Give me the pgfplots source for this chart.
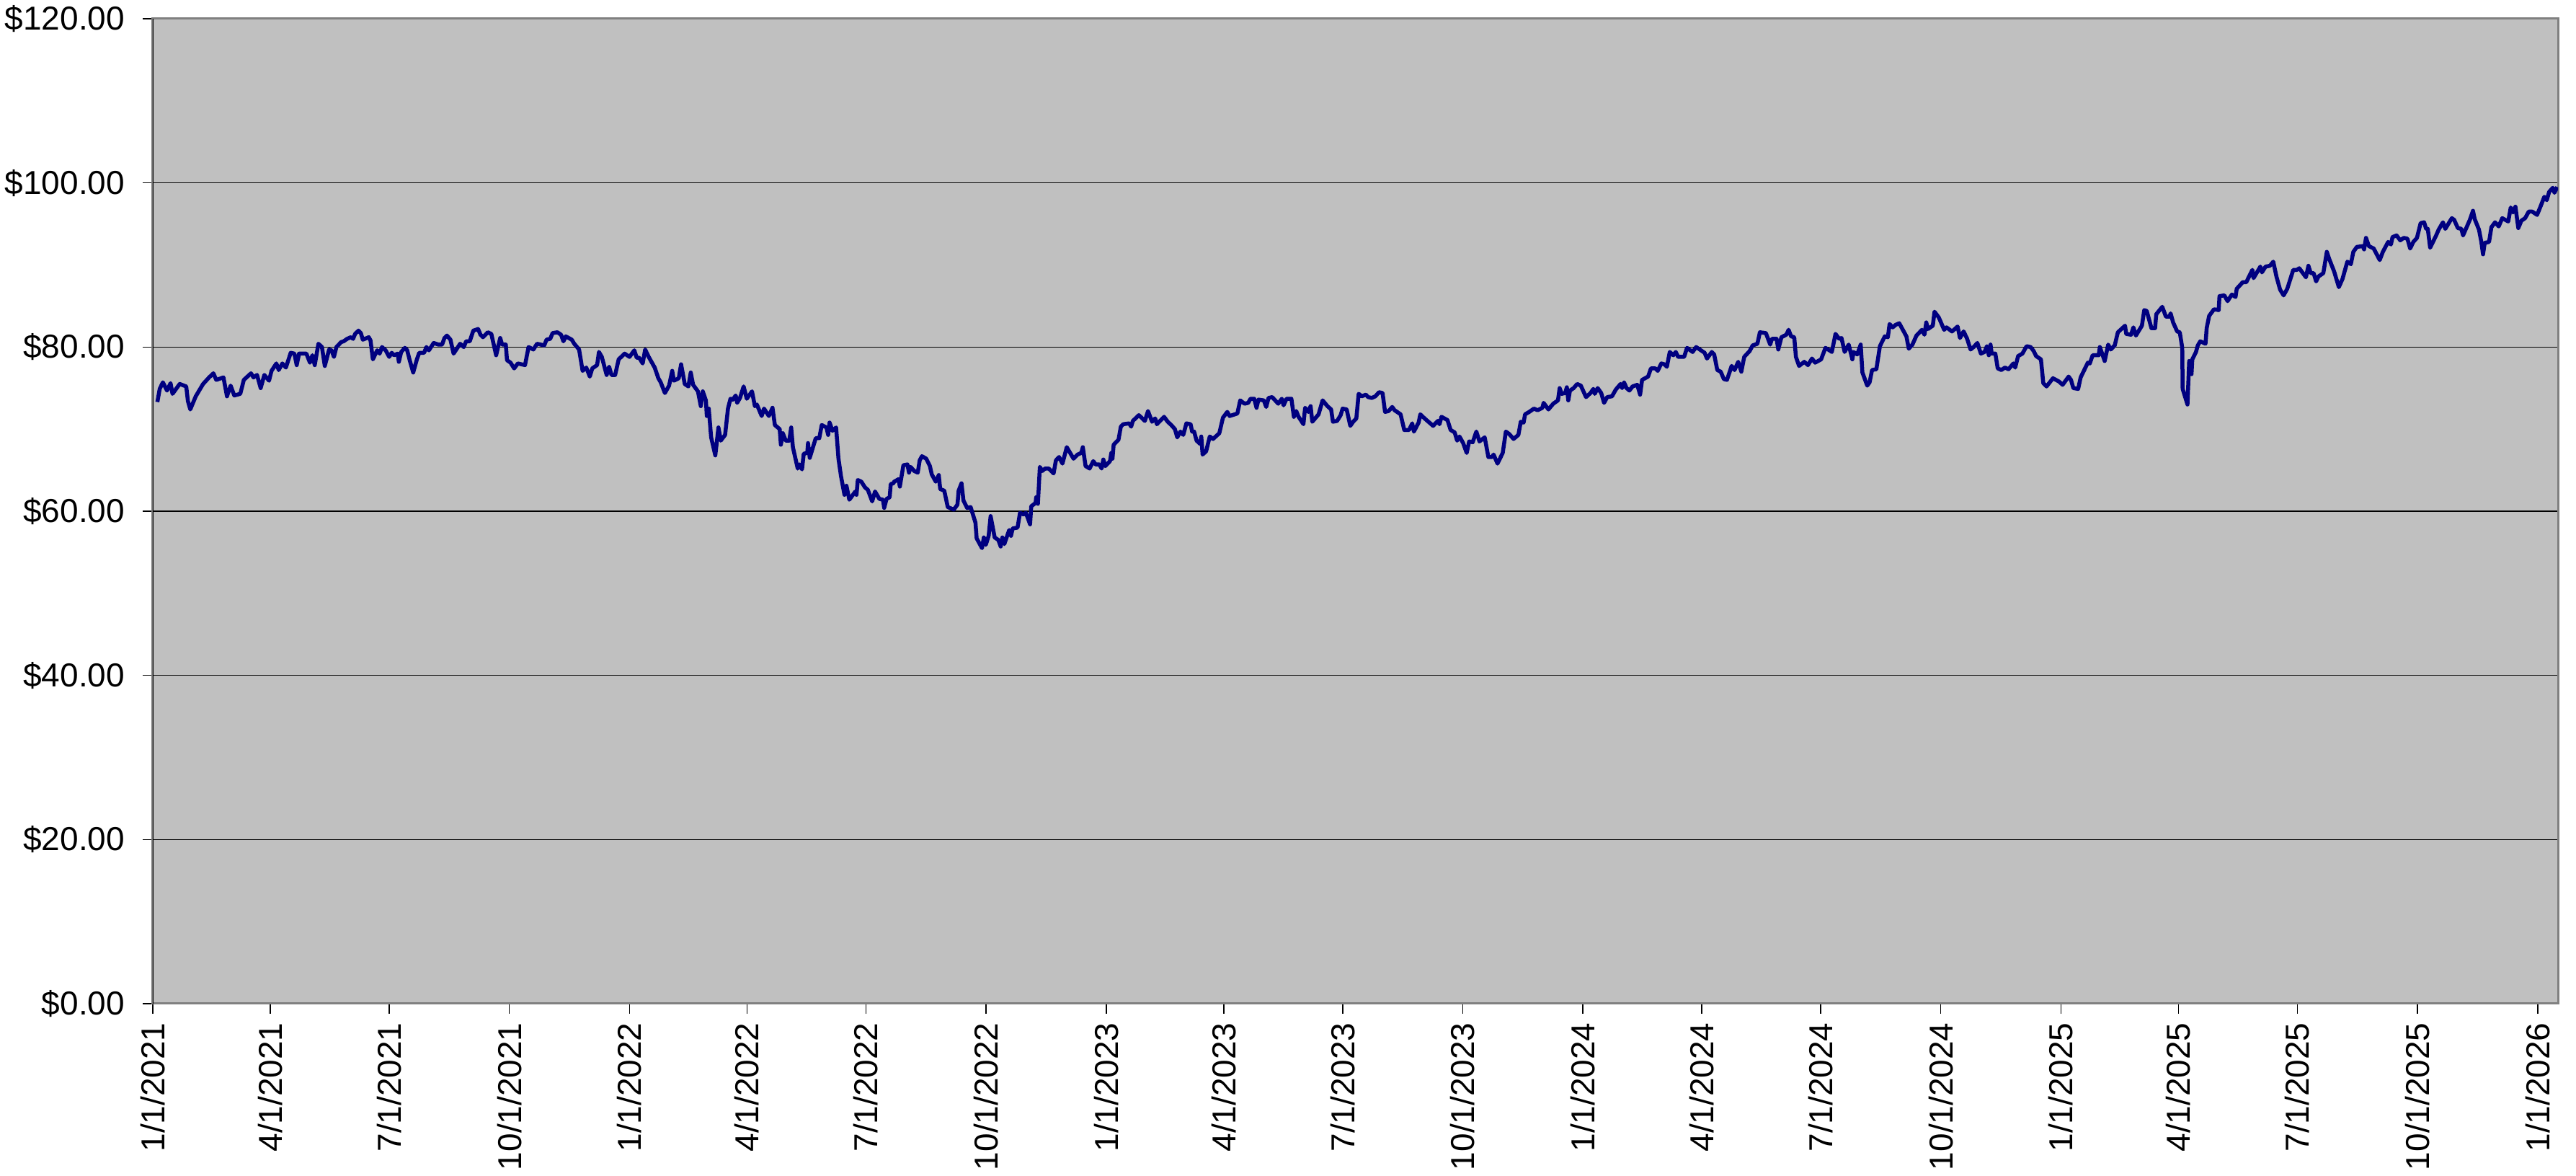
\documentclass[border=0pt]{standalone}
\usepackage{pgfplots}
\pgfplotsset{compat=1.18}
\usepackage{fontspec}
\setmainfont{Liberation Sans}
\definecolor{bggray}{RGB}{192,192,192}
\definecolor{bordergray}{RGB}{128,128,128}
\definecolor{navyline}{RGB}{0,0,128}
\begin{document}
\begin{tikzpicture}
\begin{axis}[
  scale only axis,
  width=667.4pt, height=273.2pt,
  xmin=0, xmax=1841.6,
  ymin=0, ymax=120,
  axis background/.style={fill=bggray},
  axis line style={draw=bordergray, line width=0.6pt},
  ymajorgrids,
  major grid style={black, line width=0.3pt},
  tick align=outside,
  major tick length=2.8pt,
  xtick pos=bottom, ytick pos=left,
  every tick/.style={black, line width=0.3pt},
  xtick={0,90,181,273,365,455,546,638,730,820,911,1003,1095,1186,1277,1369,1461,1551,1642,1734,1826},
  xticklabels={1/1/2021,4/1/2021,7/1/2021,10/1/2021,1/1/2022,4/1/2022,7/1/2022,10/1/2022,1/1/2023,4/1/2023,7/1/2023,10/1/2023,1/1/2024,4/1/2024,7/1/2024,10/1/2024,1/1/2025,4/1/2025,7/1/2025,10/1/2025,1/1/2026},
  ytick={0,20,40,60,80,100,120},
  yticklabels={\$0.00,\$20.00,\$40.00,\$60.00,\$80.00,\$100.00,\$120.00},
  tick label style={font=\fontsize{9.2}{10}\selectfont, inner sep=0pt},
  xticklabel style={rotate=90, anchor=east},
  xticklabel shift=2.3pt,
  yticklabel shift=4.8pt,
]
\coordinate (SW) at (rel axis cs:0,0);
\coordinate (NE) at (rel axis cs:1,1);
\draw[black, line width=0.3pt] (rel axis cs:0,0) -- (rel axis cs:0,1);
\addplot[navyline, line width=1.1pt, line join=round] table {
x y
3.5 73.3
5.3 74.9
7.7 75.7
10.9 74.7
13.6 75.6
15.1 74.3
20.6 75.5
25.6 75.2
26.9 73.4
28.7 72.4
32.9 74.0
38.5 75.5
43.1 76.3
46.4 76.8
48.6 76.0
54.1 76.3
56.8 74.0
59.6 75.3
62.4 74.1
67.0 74.3
69.7 76.0
75.2 76.8
77.1 76.3
79.8 76.6
82.6 75.0
85.4 76.6
89.0 75.9
90.9 77.1
94.6 78.0
96.4 77.2
99.2 78.0
101.9 77.5
105.6 79.3
108.4 79.2
110.2 77.8
112.0 79.2
117.6 79.2
120.3 78.1
122.2 79.0
124.0 77.8
126.8 80.4
129.5 80.0
131.7 77.7
135.0 79.7
136.9 79.6
138.7 78.8
140.6 80.0
144.2 80.6
146.1 80.7
148.8 81.0
151.6 81.2
153.4 81.0
154.9 81.6
157.5 82.0
159.3 81.7
160.8 80.9
165.4 81.2
166.7 80.8
168.5 78.5
171.8 79.6
173.7 79.2
175.5 80.0
178.3 79.6
181.0 78.8
182.9 79.3
184.7 79.0
187.5 79.2
188.4 78.2
190.2 79.4
193.0 79.9
194.8 79.6
196.7 78.4
199.4 76.9
202.2 78.5
204.0 79.3
207.7 79.3
209.5 80.0
211.4 79.6
215.1 80.5
218.7 80.3
221.5 80.3
223.3 81.1
225.2 81.4
227.9 80.9
230.3 79.2
235.3 80.4
238.1 80.0
239.9 80.7
242.7 80.7
245.4 82.0
249.1 82.2
250.9 81.5
252.8 81.2
256.5 81.8
259.2 81.6
262.9 79.0
266.0 81.1
267.5 80.3
270.3 80.3
271.2 78.4
273.9 78.1
276.7 77.4
279.5 78.0
285.0 77.8
287.7 80.0
291.4 79.7
294.2 80.4
299.7 80.2
301.5 80.9
304.3 81.0
306.1 81.7
309.8 81.8
312.6 81.5
314.4 80.7
316.2 81.3
320.8 80.9
322.7 80.4
326.4 79.7
329.1 77.1
331.9 77.5
334.6 76.4
336.5 77.4
340.2 77.8
341.6 79.4
343.8 78.8
347.5 76.6
349.4 77.6
351.2 76.6
354.0 76.6
356.7 78.5
361.3 79.2
365.0 78.8
368.7 79.6
370.5 78.7
372.4 78.7
375.1 78.0
377.0 79.7
379.7 78.8
384.3 77.5
387.1 76.2
388.9 75.7
392.1 74.4
395.3 75.3
397.7 77.1
399.0 75.9
402.7 76.2
404.5 77.9
407.3 75.5
410.1 75.2
411.9 76.9
413.7 75.4
417.4 74.6
419.6 72.8
421.1 74.6
423.5 73.5
424.2 71.6
425.7 72.5
427.5 69.0
430.7 66.8
433.1 70.2
434.9 68.6
438.2 69.3
440.4 72.5
442.3 73.7
444.1 73.6
446.3 74.1
447.4 73.2
449.6 73.8
452.4 75.2
454.8 73.7
458.8 74.6
461.0 72.8
462.5 73.0
466.2 71.6
468.0 72.5
471.7 71.6
474.5 72.6
476.3 70.5
480.0 70.0
480.9 68.1
482.4 69.5
484.6 68.6
487.3 68.6
488.8 70.2
490.1 67.8
493.8 65.2
495.2 65.7
497.1 65.1
498.4 67.0
501.1 67.1
501.7 68.3
503.0 66.5
507.6 68.9
510.3 68.9
512.2 70.5
515.8 70.2
517.1 69.3
518.2 70.8
520.4 69.8
523.2 70.2
525.0 66.4
526.9 64.3
529.6 62.0
531.1 63.1
533.3 61.4
536.1 62.0
537.9 62.4
538.8 62.0
539.8 63.8
542.5 63.6
545.3 62.9
547.5 62.6
550.8 61.2
553.0 62.4
556.3 61.5
559.1 61.4
560.0 60.4
561.8 61.5
564.2 61.7
565.0 63.3
567.0 63.4
567.7 63.6
571.0 63.9
572.0 63.0
574.7 65.6
577.8 65.7
579.0 64.7
580.2 65.4
583.0 64.9
585.7 64.7
587.2 66.2
588.9 66.7
592.2 66.4
595.0 65.5
596.4 64.5
599.5 63.6
601.8 64.4
602.9 62.7
606.0 62.5
608.7 60.5
613.3 60.2
616.1 60.8
617.0 62.5
619.2 63.4
620.7 61.3
623.5 60.4
626.2 60.5
629.9 58.6
630.8 56.7
634.9 55.5
636.3 56.8
637.8 55.9
640.0 57.0
641.5 59.4
644.6 56.8
647.4 56.5
649.2 55.7
650.5 56.8
652.0 56.0
655.7 57.7
657.1 57.0
658.4 57.9
662.1 58.0
664.0 59.8
666.7 59.6
668.5 59.8
671.7 58.4
672.6 60.6
675.9 61.0
676.4 61.7
677.7 60.9
679.2 65.4
681.0 64.9
683.2 65.2
686.0 65.2
689.7 64.6
691.5 66.2
693.9 66.6
696.5 65.8
699.8 67.8
705.0 66.4
708.1 66.9
710.9 67.1
712.1 67.8
714.2 65.5
717.3 65.2
720.1 66.1
721.9 65.7
724.7 65.7
726.5 65.2
727.8 66.3
729.3 65.5
732.9 66.1
733.9 67.1
734.8 66.4
735.7 68.1
739.4 68.7
741.2 70.3
743.1 70.6
747.6 70.7
749.1 70.3
750.4 71.0
755.0 71.7
759.6 71.0
762.0 72.2
765.1 70.9
767.5 71.3
768.8 70.6
770.6 70.9
774.3 71.5
777.1 70.9
779.8 70.5
782.6 70.0
784.4 69.0
786.8 69.7
789.0 69.3
791.4 70.7
794.6 70.6
795.8 69.7
797.3 69.7
799.2 68.6
801.9 68.2
802.8 69.1
803.8 66.9
806.5 67.3
809.3 69.1
811.8 68.8
816.6 69.5
819.4 71.4
822.7 72.1
824.5 71.6
830.4 71.9
832.6 73.5
835.9 73.1
838.7 73.2
840.5 73.7
843.3 73.7
845.1 72.6
846.6 73.6
850.7 73.5
852.5 72.7
854.3 73.8
857.1 73.9
861.7 73.1
864.5 73.7
865.8 72.9
868.1 73.7
871.8 73.7
873.7 71.5
875.5 72.2
877.3 71.5
881.0 70.6
882.3 72.6
884.7 72.1
886.5 72.8
887.8 70.9
892.6 71.8
895.7 73.5
899.4 72.8
902.2 72.4
903.6 70.9
906.8 71.0
909.5 71.7
911.0 72.5
914.1 72.4
916.9 70.4
919.1 70.9
921.5 71.3
923.3 74.3
925.7 74.0
928.8 74.2
930.6 73.9
933.4 73.8
936.1 74.0
938.9 74.5
941.6 74.4
943.5 72.1
946.2 72.2
949.0 72.7
950.8 72.3
952.7 72.1
955.4 71.8
958.2 69.9
961.9 69.9
964.3 70.7
965.6 69.7
969.2 70.8
970.5 71.8
973.8 71.3
980.3 70.4
983.9 71.0
985.2 70.6
986.7 71.5
991.3 71.1
993.7 69.9
996.8 69.6
998.7 68.6
1000.5 69.1
1003.3 68.3
1006.0 67.1
1007.9 68.5
1010.6 68.4
1013.4 69.7
1015.8 68.5
1019.8 69.0
1022.6 66.6
1025.3 66.6
1026.6 66.9
1029.6 65.8
1033.6 67.1
1036.0 69.7
1038.6 69.4
1041.9 68.8
1045.6 69.3
1047.4 70.9
1049.6 70.8
1050.7 71.8
1053.9 72.1
1057.5 72.5
1060.3 72.3
1064.0 72.6
1064.9 73.2
1068.6 72.4
1072.3 73.1
1075.9 73.5
1077.2 75.0
1078.7 74.3
1081.4 74.4
1082.7 75.1
1083.8 73.5
1085.1 74.7
1087.9 75.0
1090.6 75.5
1093.4 75.3
1097.4 73.9
1100.8 74.4
1103.0 74.9
1104.1 74.3
1106.3 75.0
1109.0 74.4
1111.2 73.2
1113.6 73.9
1117.3 74.0
1120.1 74.8
1123.8 75.5
1125.0 75.0
1126.5 75.7
1128.4 75.0
1130.6 74.7
1133.0 75.2
1136.6 75.4
1138.8 74.2
1140.3 76.0
1144.9 76.4
1147.1 77.4
1150.4 77.4
1152.3 77.1
1155.0 78.0
1157.4 77.9
1159.3 77.6
1161.5 79.4
1164.2 79.0
1166.1 79.4
1167.9 78.8
1172.5 78.8
1174.7 79.9
1179.0 79.4
1181.7 80.0
1185.4 79.6
1188.2 79.3
1190.0 78.6
1193.7 79.4
1195.5 79.1
1197.9 77.2
1200.5 77.0
1202.9 76.1
1205.3 76.0
1208.9 77.7
1211.1 77.2
1213.9 78.2
1216.3 77.0
1218.5 78.8
1222.6 79.5
1225.0 80.2
1228.6 80.4
1230.5 81.8
1235.1 81.7
1238.4 80.3
1239.7 81.0
1243.3 81.0
1244.6 79.7
1247.0 81.2
1250.7 81.5
1252.5 82.1
1254.4 81.3
1256.8 81.2
1258.1 78.8
1260.5 77.7
1264.5 78.2
1267.3 77.8
1270.4 78.6
1272.8 78.1
1277.4 78.5
1280.7 79.9
1283.8 79.6
1285.6 79.4
1288.4 81.6
1291.2 81.0
1293.0 81.1
1295.4 79.4
1298.5 80.3
1301.3 78.5
1302.2 79.4
1305.0 79.1
1307.7 80.3
1309.0 76.9
1312.7 75.3
1314.5 75.7
1316.4 77.2
1319.7 77.3
1322.4 80.1
1326.1 81.3
1328.5 81.2
1329.8 82.8
1332.2 82.4
1334.4 82.7
1337.2 82.9
1342.7 81.3
1344.5 79.8
1347.3 80.3
1350.4 81.4
1354.6 82.1
1356.5 81.5
1357.9 83.0
1359.2 82.2
1362.9 82.6
1364.2 84.3
1367.5 83.6
1371.6 82.1
1373.4 82.4
1377.6 81.9
1381.9 82.5
1383.7 81.1
1386.5 81.9
1389.2 81.0
1391.8 79.7
1394.2 80.0
1397.0 80.5
1399.7 79.2
1402.5 79.4
1404.3 80.1
1405.8 79.0
1407.1 80.3
1408.0 79.2
1410.8 79.2
1412.6 77.4
1415.4 77.2
1418.1 77.5
1420.9 77.3
1424.6 78.0
1426.0 77.5
1428.2 78.9
1431.5 79.2
1434.7 80.1
1437.8 80.0
1440.2 79.5
1442.0 78.9
1445.7 78.5
1447.5 75.6
1450.0 75.2
1454.9 76.2
1459.5 75.8
1462.3 75.4
1466.9 76.4
1468.7 76.0
1470.5 75.0
1474.2 74.9
1476.1 76.3
1481.6 78.1
1483.1 78.0
1485.3 79.0
1489.9 79.0
1490.8 80.0
1494.5 78.3
1497.2 80.3
1499.1 79.7
1502.2 80.2
1504.6 81.8
1510.1 82.6
1511.0 81.6
1514.7 81.5
1516.5 82.4
1518.4 81.4
1523.0 82.6
1524.8 84.5
1526.7 84.4
1530.3 82.3
1533.1 82.3
1534.0 84.0
1538.6 84.9
1541.4 83.7
1544.1 83.7
1545.0 84.1
1546.9 83.0
1550.0 81.9
1552.0 81.8
1553.9 79.9
1554.2 74.9
1557.9 73.0
1559.2 78.3
1561.0 76.7
1561.6 78.5
1564.4 79.4
1565.8 80.2
1567.7 80.7
1571.7 80.4
1572.6 82.3
1574.5 83.8
1578.2 84.6
1581.8 84.5
1582.4 86.2
1586.1 86.3
1588.6 85.6
1591.9 86.4
1594.7 86.1
1595.6 87.1
1600.2 87.9
1602.9 87.9
1607.6 89.4
1608.5 88.4
1613.7 89.8
1614.9 89.1
1617.7 89.8
1621.0 89.9
1623.6 90.4
1626.0 88.6
1628.8 87.0
1631.5 86.3
1634.3 87.1
1636.1 88.0
1638.9 89.4
1641.6 89.4
1643.5 89.6
1648.6 88.5
1650.5 89.9
1652.3 89.0
1654.5 89.0
1656.4 88.0
1658.2 88.6
1661.9 89.0
1664.6 91.6
1666.5 90.7
1670.2 89.2
1673.8 87.3
1676.6 88.3
1680.3 90.4
1683.0 90.1
1684.9 91.6
1687.6 92.2
1692.2 92.3
1693.1 91.9
1694.6 93.3
1696.8 92.3
1700.5 92.0
1705.1 90.6
1707.5 91.6
1711.5 92.8
1713.7 92.5
1714.9 93.4
1718.0 93.6
1720.8 93.0
1723.5 93.3
1726.3 93.2
1728.4 92.0
1730.8 92.8
1733.6 93.3
1736.4 95.1
1739.1 95.2
1740.6 94.4
1741.9 94.4
1743.7 92.1
1748.3 93.6
1750.2 94.3
1753.5 95.2
1755.3 94.4
1760.3 95.7
1762.1 95.5
1764.9 94.5
1767.6 94.4
1768.9 93.6
1774.1 95.5
1776.5 96.6
1777.8 95.6
1781.1 94.3
1782.9 92.8
1784.2 91.3
1785.5 92.7
1788.8 92.8
1790.6 94.6
1793.4 95.2
1796.2 94.7
1798.9 95.7
1803.5 95.3
1805.4 97.0
1807.2 96.4
1809.0 97.1
1811.2 94.5
1813.6 95.4
1816.4 95.7
1819.2 96.5
1821.9 96.5
1825.6 96.1
1828.4 97.2
1831.1 98.3
1833.0 97.9
1834.8 98.9
1837.6 99.4
1838.9 98.8
1841.0 99.5
};
\end{axis}
\pgfresetboundingbox
\path ([xshift=-42.4pt, yshift=-47.8pt]SW) rectangle ([xshift=5pt, yshift=5.2pt]NE);
\end{tikzpicture}
\end{document}
